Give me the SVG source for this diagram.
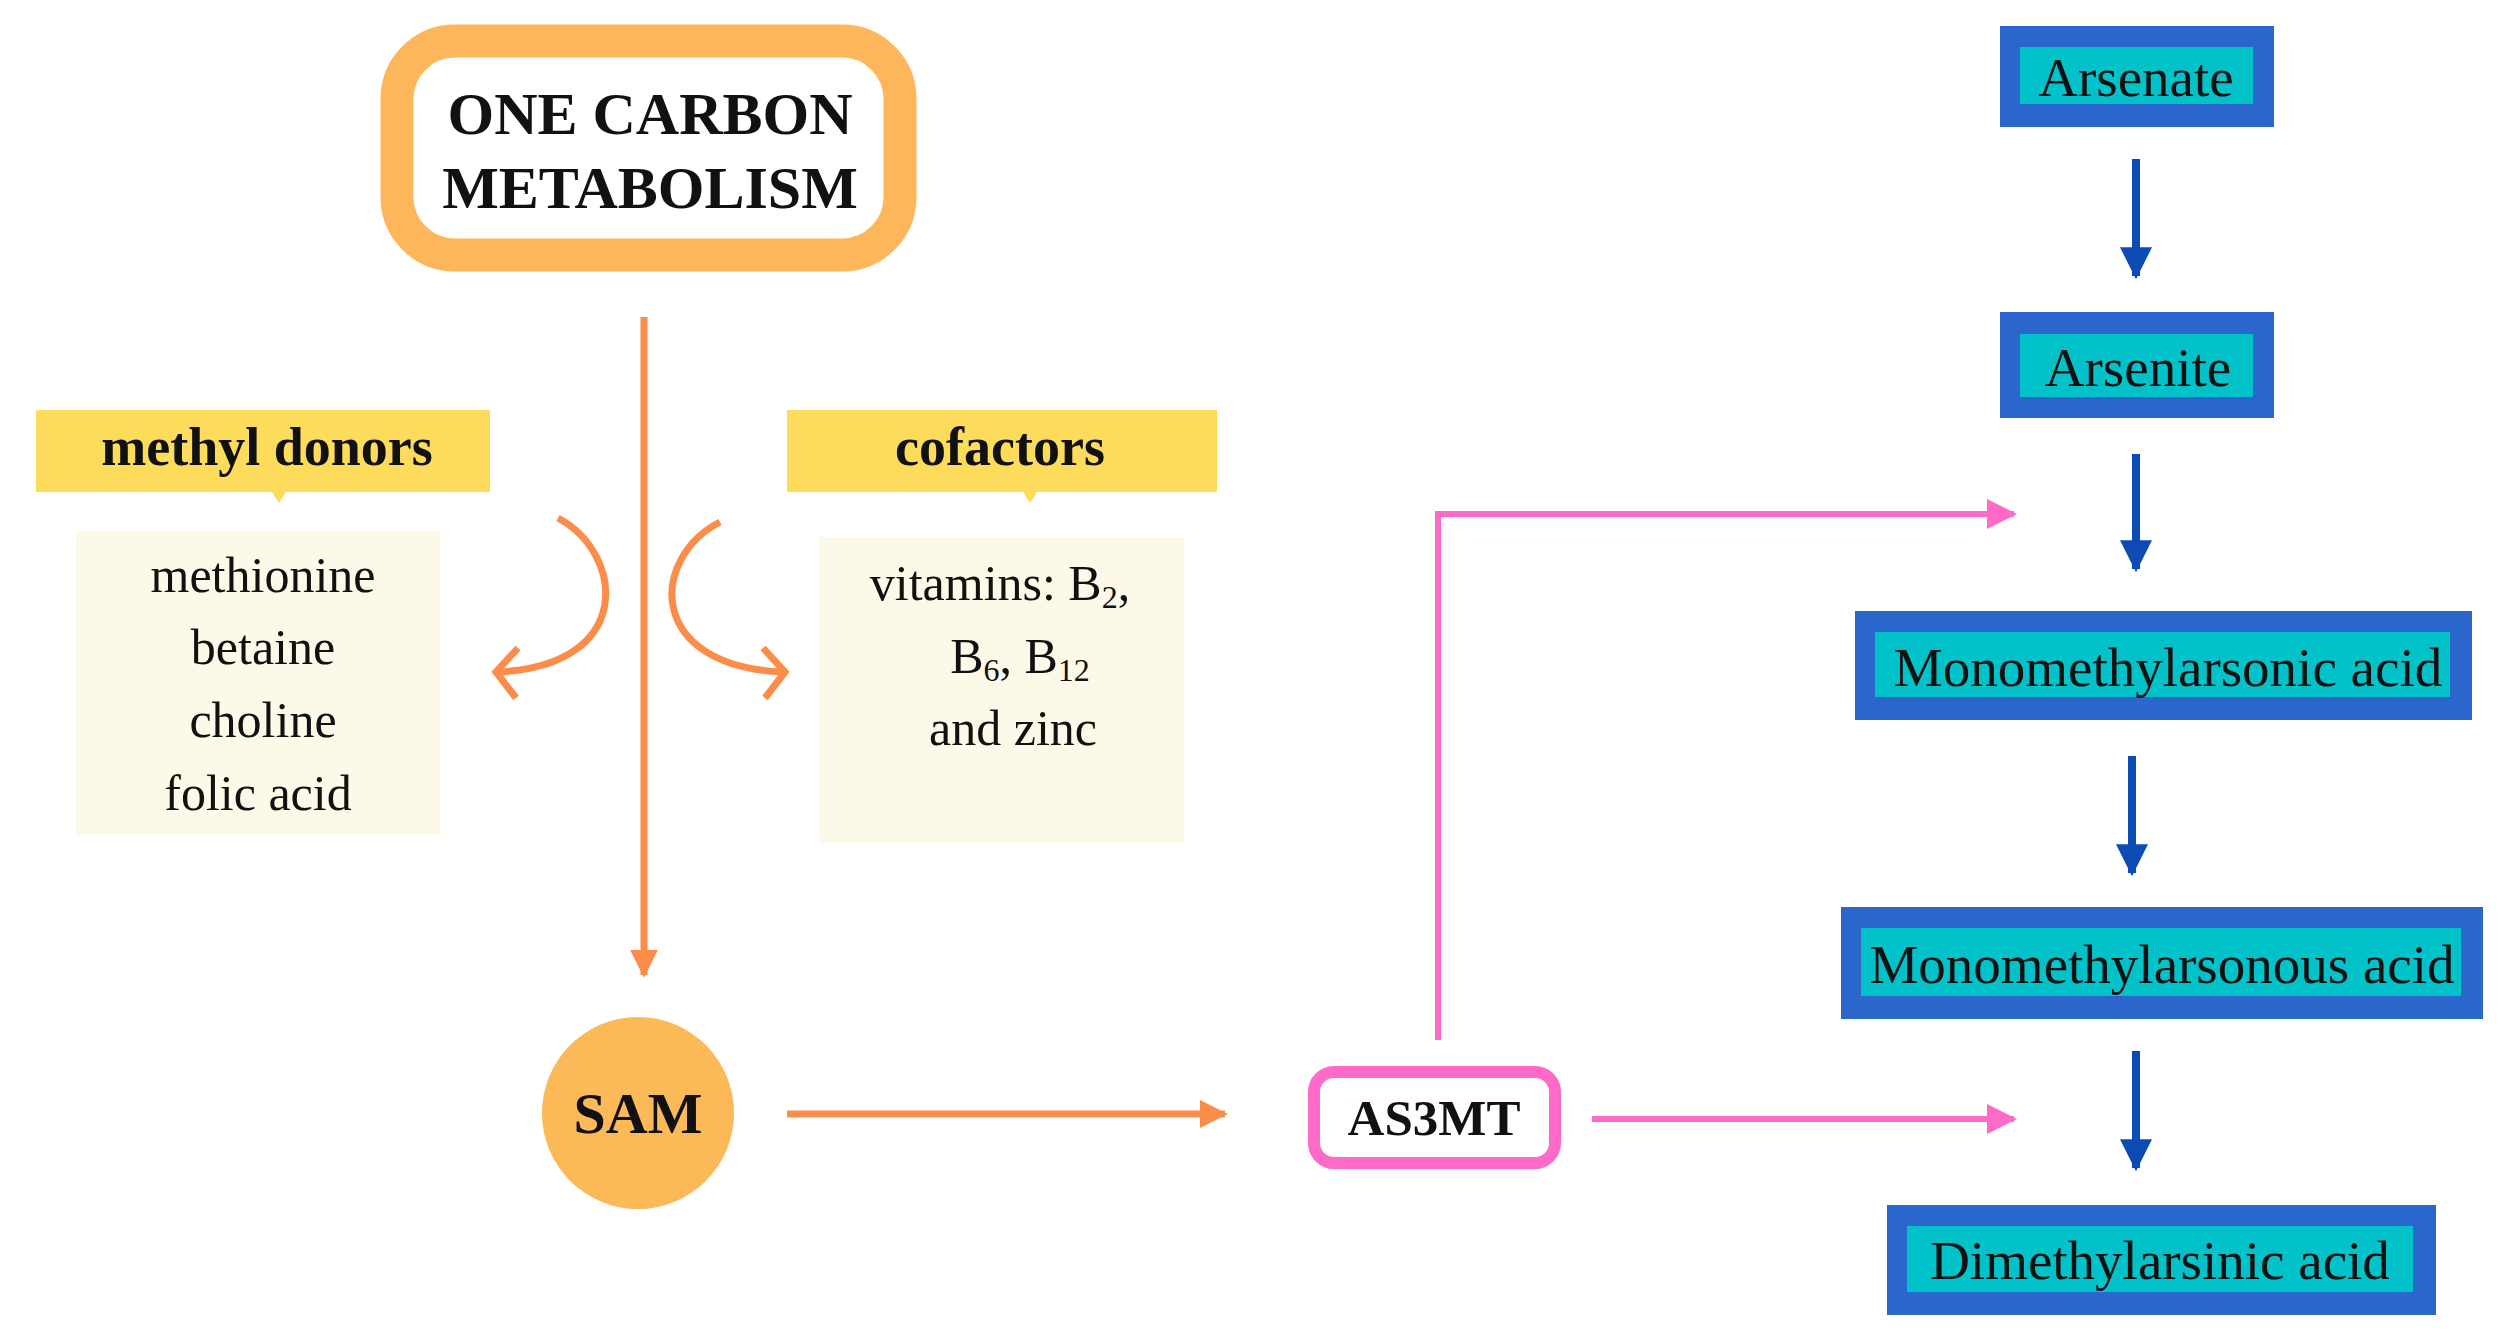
<svg xmlns="http://www.w3.org/2000/svg" width="2506" height="1335" viewBox="0 0 2506 1335">
<style>
.ser{font-family:"Liberation Serif","Times New Roman",serif;fill:#111}
.b{font-weight:bold}
.or{stroke:#fb8c4a;stroke-width:7;fill:none}
.pk{stroke:#ff69c8;stroke-width:6;fill:none}
.bl{stroke:#0b4bb3;stroke-width:8;fill:none}
.ob{fill:#2a66cc}
.ib{fill:#00c2c8}
</style>
<defs>
<marker id="ao" viewBox="0 0 10 10" refX="9" refY="5" markerWidth="4" markerHeight="4" orient="auto" markerUnits="strokeWidth"><path d="M0,0L10,5L0,10Z" fill="#fb8c4a"/></marker>
<marker id="ap" viewBox="0 0 10 10" refX="9" refY="5" markerWidth="5" markerHeight="5" orient="auto" markerUnits="strokeWidth"><path d="M0,0L10,5L0,10Z" fill="#ff69c8"/></marker>
<marker id="ab" viewBox="0 0 10 10" refX="9" refY="5" markerWidth="4" markerHeight="4" orient="auto" markerUnits="strokeWidth"><path d="M0,0L10,5L0,10Z" fill="#0b4bb3"/></marker>
</defs>
<rect width="2506" height="1335" fill="#fff"/>
<g id="one-carbon">
<rect x="397" y="41" width="503" height="214" rx="58" fill="#fff" stroke="#fdb75a" stroke-width="33"/>
<text class="ser b" x="650" y="134" font-size="60" text-anchor="middle">ONE CARBON</text>
<text class="ser b" x="650" y="208" font-size="60" text-anchor="middle">METABOLISM</text>
</g>
<g id="methyl-donors">
<rect x="36" y="410" width="454" height="82" fill="#fddc5c"/>
<path d="M272,492L279,503L286,492Z" fill="#fddc5c"/>
<text class="ser b" x="267" y="465" font-size="54" text-anchor="middle">methyl donors</text>
<rect x="76" y="531" width="364" height="304" fill="#fdf9e8"/>
<g class="ser" font-size="50" text-anchor="middle">
<text x="263" y="592">methionine</text>
<text x="263" y="664">betaine</text>
<text x="263" y="737">choline</text>
<text x="258" y="810">folic acid</text>
</g>
</g>
<g id="cofactors">
<rect x="787" y="410" width="430" height="82" fill="#fddc5c"/>
<path d="M1023,492L1030,503L1037,492Z" fill="#fddc5c"/>
<text class="ser b" x="1000" y="465" font-size="54" text-anchor="middle">cofactors</text>
<rect x="819" y="537" width="365" height="306" fill="#fdf9e8"/>
<g class="ser" font-size="50" text-anchor="middle">
<text x="1000" y="600">vitamins: B<tspan font-size="32" dy="8">2</tspan><tspan dy="-8">,</tspan></text>
<text x="1020" y="673">B<tspan font-size="32" dy="8">6</tspan><tspan dy="-8">, B</tspan><tspan font-size="32" dy="8">12</tspan></text>
<text x="1013" y="745">and zinc</text>
</g>
</g>
<g id="sam">
<circle cx="638" cy="1113" r="96" fill="#fbb957"/>
<text class="ser b" x="638" y="1133" font-size="58" text-anchor="middle">SAM</text>
</g>
<g id="as3mt">
<rect x="1314" y="1072" width="241" height="91" rx="20" fill="#fff" stroke="#ff69c8" stroke-width="12"/>
<text class="ser b" x="1434" y="1135" font-size="51" text-anchor="middle">AS3MT</text>
</g>
<g id="arsenate"><rect class="ob" x="2000" y="26" width="274" height="101"/><rect class="ib" x="2020" y="47" width="233" height="57"/><text class="ser" x="2136" y="96" font-size="55" text-anchor="middle">Arsenate</text></g>
<g id="arsenite"><rect class="ob" x="2000" y="312" width="274" height="106"/><rect class="ib" x="2020" y="334" width="233" height="63"/><text class="ser" x="2138" y="386" font-size="55" text-anchor="middle">Arsenite</text></g>
<g id="mma"><rect class="ob" x="1855" y="611" width="617" height="109"/><rect class="ib" x="1875" y="632" width="575" height="65"/><text class="ser" x="2168" y="686" font-size="55" text-anchor="middle">Monomethylarsonic acid</text></g>
<g id="mmas"><rect class="ob" x="1841" y="907" width="642" height="112"/><rect class="ib" x="1861" y="928" width="600" height="68"/><text class="ser" x="2162" y="983" font-size="55" text-anchor="middle">Monomethylarsonous acid</text></g>
<g id="dma"><rect class="ob" x="1887" y="1205" width="549" height="110"/><rect class="ib" x="1907" y="1226" width="506" height="66"/><text class="ser" x="2160" y="1279" font-size="55" text-anchor="middle">Dimethylarsinic acid</text></g>
<g id="connectors">
<line class="or" x1="644" y1="317" x2="644" y2="975" marker-end="url(#ao)"/>
<line class="or" x1="787" y1="1114" x2="1225" y2="1114" marker-end="url(#ao)"/>
<path class="or" d="M558,518C625,554 635,666 498,672"/>
<path class="or" d="M518,648L496,672L516,698"/>
<path class="or" d="M720,522C650,558 645,666 783,672"/>
<path class="or" d="M763,648L785,672L765,698"/>
<polyline class="pk" points="1438,1040 1438,514 2014,514" marker-end="url(#ap)"/>
<line class="pk" x1="1592" y1="1119" x2="2014" y2="1119" marker-end="url(#ap)"/>
<line class="bl" x1="2136" y1="159" x2="2136" y2="276" marker-end="url(#ab)"/>
<line class="bl" x1="2136" y1="454" x2="2136" y2="569" marker-end="url(#ab)"/>
<line class="bl" x1="2132" y1="756" x2="2132" y2="873" marker-end="url(#ab)"/>
<line class="bl" x1="2136" y1="1051" x2="2136" y2="1168" marker-end="url(#ab)"/>
</g>
</svg>
